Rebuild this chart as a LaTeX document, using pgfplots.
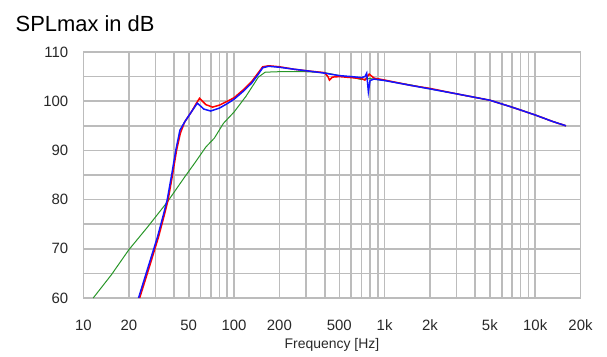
\documentclass[border=0pt]{standalone}
\usepackage{pgfplots}
\pgfplotsset{compat=1.18}
\usepackage{fontspec}
\setmainfont{Liberation Sans}
\definecolor{gridc}{RGB}{188,188,188}
\definecolor{cred}{RGB}{255,0,0}
\definecolor{cblue}{RGB}{20,20,255}
\definecolor{cgreen}{RGB}{40,150,40}
\definecolor{txt}{RGB}{40,40,40}
\begin{document}
\begin{tikzpicture}[x=1bp,y=1bp]
\useasboundingbox (-83.5,-58) rectangle (523.5,298);
\begin{axis}[at={(0,0)},anchor=south west, scale only axis, width=497bp, height=246bp,
 xmode=log, log basis x=10, xmin=10, xmax=20000, ymin=60, ymax=110,
 xtick={10,20,50,100,200,500,1000,2000,5000,10000,20000},
 xticklabels={10,20,50,100,200,500,1k,2k,5k,10k,20k},
 minor xtick={30,40,60,70,80,90,300,400,600,700,800,900,3000,4000,6000,7000,8000,9000},
 ytick={60,70,...,110}, minor ytick={65,75,...,105},
 grid=both, major grid style={gridc, line width=1.6bp}, minor grid style={gridc,line width=1.6bp},
 axis line style={gridc, line width=1.6bp},
 major tick length=0pt, minor tick length=0pt,
 tick style={draw=none},
 /pgf/number format/assume math mode=true,
 ticklabel style={font=\fontsize{15}{15}\selectfont, text=txt},
 xticklabel style={anchor=base, inner sep=0pt, yshift=-32bp},
 yticklabel style={anchor=east, inner sep=0pt, xshift=-15bp},
 xlabel={Frequency [Hz]},
 xlabel style={at={(axis description cs:0.5,0)}, anchor=base, yshift=-50bp, inner sep=0pt, font=\fontsize{14}{14}\selectfont, text=txt},
 clip=true,
]
\addplot[cgreen, line width=1bp] coordinates {
(11.6,60) (15.3,64.7) (20,69.8) (26.6,74.4) (36,79.5) (47,84.6) (55,87.5) (65,90.7) (74,92.5) (85,95.5) (100,97.8) (120,101) (145,104.9) (161,105.9) (200,106) (300,106) (400,105.8) (500,105.2) (600,104.9) (700,104.4) (800,104.6) (1000,104.2) (1500,103.3) (2000,102.5) (3000,101.5) (5000,100.2) (7000,98.8) (10000,97.2) (13000,95.9) (16000,95.0)
};
\addplot[cred, line width=1.5bp] coordinates {
(23.6,60) (27.5,66.5) (31.5,72.4) (34.5,77) (36.5,80) (39,85) (41.5,90) (44,93.5) (47,95.8) (52,97.8) (56,99.5) (59,100.6) (65,99.3) (72,98.8) (80,99.2) (93,100.2) (100,100.7) (115,102.3) (131,104) (145,105.8) (155,107.0) (170,107.2) (200,107.0) (250,106.5) (300,106.2) (400,105.8) (420,105.0) (430,104.3) (450,104.9) (500,105.0) (600,104.8) (700,104.6) (740,104.3) (790,105.5) (850,104.7) (1000,104.3) (1500,103.2) (2000,102.6) (3000,101.5) (5000,100.2) (7000,98.8) (10000,97.2) (13000,95.9) (16000,95.0)
};
\addplot[cblue, line width=1.5bp] coordinates {
(23.2,60) (27,66.5) (31,72.4) (34,77) (36,80) (38.5,85) (41,90) (43.7,94.1) (47,95.8) (52,97.8) (57,99.6) (63,98.4) (70,98.0) (80,98.6) (90,99.5) (100,100.4) (115,102) (131,103.7) (145,105.5) (155,106.8) (170,107.1) (200,106.9) (250,106.5) (300,106.2) (400,105.7) (500,105.2) (600,105.0) (700,104.8) (740,105.0) (760,105.7) (780,101.9) (800,104.2) (850,104.5) (1000,104.2) (1500,103.2) (2000,102.5) (3000,101.5) (5000,100.2) (7000,98.8) (10000,97.2) (13000,95.9) (16000,95.0)
};
\end{axis}
\node[anchor=base west, inner sep=0pt, font=\fontsize{22}{22}\selectfont] at (-68,267) {SPLmax in dB};
\end{tikzpicture}
\end{document}
